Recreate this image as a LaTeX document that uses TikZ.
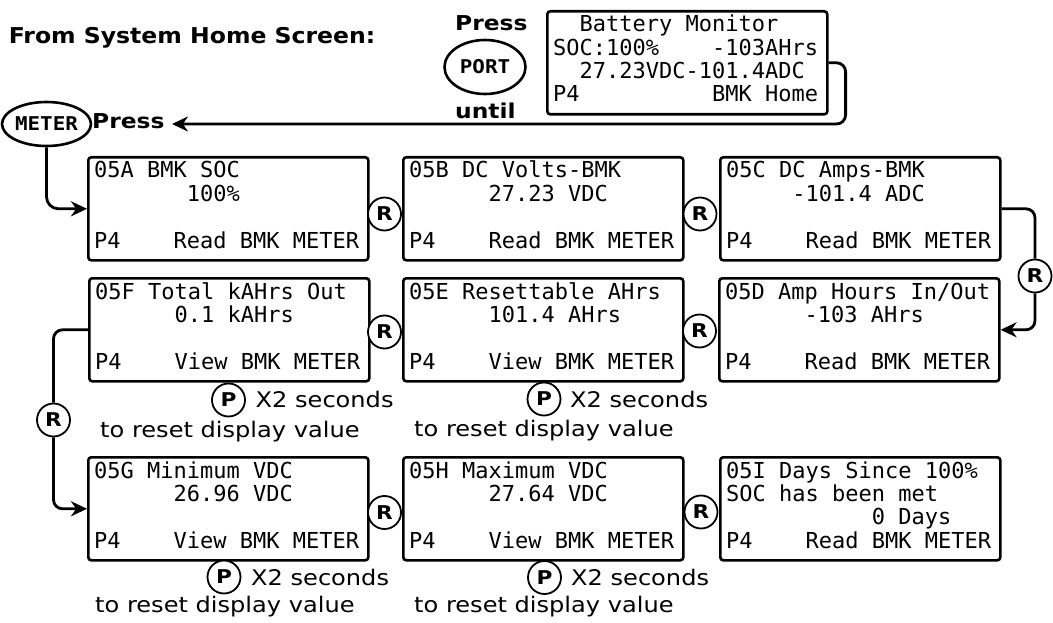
\documentclass[tikz,border=0pt]{standalone}
\usepackage{fontspec}
\usetikzlibrary{arrows.meta,calc,shapes.geometric}
\newfontfamily\monof{DejaVu Sans Mono}
\newfontfamily\keyf[FakeStretch=1.1]{DejaVu Sans Mono}
\newfontfamily\sansf[FakeStretch=1.12]{DejaVu Sans}
\newfontfamily\headf[FakeStretch=1.14]{DejaVu Sans}
\newfontfamily\titlef[FakeStretch=1.08]{DejaVu Sans}

\tikzset{
 scr/.style={draw, line width=2.6pt, rounded corners=3pt, minimum width=280pt, minimum height=103pt, inner sep=0pt, anchor=north west},
 mtx/.style={font=\monof\fontsize{22}{24}\selectfont, inner sep=0pt, anchor=base west},
 rbtn/.style={circle, draw, line width=1.8pt, fill=white, minimum size=33pt, inner sep=0pt, font=\headf\bfseries\fontsize{19}{20}\selectfont},
 conn/.style={line width=2.8pt, rounded corners=9pt},
 arr/.style={conn, -{Stealth[length=16pt,width=15pt]}},
 note/.style={font=\sansf\fontsize{21.5}{24}\selectfont, inner sep=0pt, anchor=base west},
 head/.style={font=\headf\bfseries\fontsize{20.5}{24}\selectfont, inner sep=0pt, anchor=base west},
 key/.style={ellipse, draw, line width=2.6pt, inner sep=0pt, font=\keyf\bfseries\fontsize{19}{20}\selectfont},
}

\newcommand\screen[7]{%
 \node[scr] (#1) at (#2,#3) {};
 \node[mtx] (#1-1) at ($(#1.north west)+(7,22)$) {#4};
 \node[mtx] (#1-2) at ($(#1.north west)+(7,45.3)$) {#5};
 \node[mtx] (#1-3) at ($(#1.north west)+(7,68.7)$) {#6};
 \node[mtx] (#1-4) at ($(#1.north west)+(7,92)$) {#7};
}

\begin{document}
\begin{tikzpicture}[x=1pt,y=-1pt]
\useasboundingbox (0,0) rectangle (1053,623);

% headings
\node[head, font=\titlef\bfseries\fontsize{21.8}{24}\selectfont] (title) at (8.6,44) {From System Home Screen:};
\node[head] (press1) at (455,31) {Press};
\node[key, minimum width=81pt, minimum height=54pt] (port) at (485,67) {PORT};
\node[head] (until) at (455,119) {until};
\node[key, minimum width=82pt, minimum height=44pt] (meter) at (46.5,124) {METER};
\node[head] (press2) at (92,129) {Press};
\coordinate (ptip) at (172,124);

% screens
\screen{bat}{546}{10}{~~Battery Monitor}{SOC:100\%~~~~-103AHrs}{~~27.23VDC-101.4ADC}{P4~~~~~~~~~~BMK Home}
\screen{A}{87}{156}{05A BMK SOC}{~~~~~~~100\%}{}{P4~~~~Read BMK METER}
\screen{B}{402}{156}{05B DC Volts-BMK}{~~~~~~27.23 VDC}{}{P4~~~~Read BMK METER}
\screen{C}{719}{156}{05C DC Amps-BMK}{~~~~~-101.4 ADC}{}{P4~~~~Read BMK METER}
\screen{F}{88}{277}{05F Total kAHrs Out}{~~~~~~0.1 kAHrs}{}{P4~~~~View BMK METER}
\screen{E}{402}{277}{05E Resettable AHrs}{~~~~~~101.4 AHrs}{}{P4~~~~View BMK METER}
\screen{D}{718}{277}{05D Amp Hours In/Out}{~~~~~~-103 AHrs}{}{P4~~~~Read BMK METER}
\screen{G}{87}{456}{05G Minimum VDC}{~~~~~~26.96 VDC}{}{P4~~~~View BMK METER}
\screen{H}{402}{456}{05H Maximum VDC}{~~~~~~27.64 VDC}{}{P4~~~~View BMK METER}
\screen{I}{719}{456}{05I Days Since 100\%}{SOC has been met}{~~~~~~~~~~~0 Days}{P4~~~~Read BMK METER}

% R buttons
\node[rbtn] (Rab) at (384.5,214) {R};
\node[rbtn] (Rbc) at (700,214) {R};
\node[rbtn] (Rfe) at (384.5,332) {R};
\node[rbtn] (Red) at (699.5,331) {R};
\node[rbtn] (Rgh) at (384.5,512.5) {R};
\node[rbtn] (Rhi) at (701,512) {R};
\node[rbtn] (Rr) at (1035,276) {R};
\node[rbtn] (Rl) at (53.5,420) {R};

% connectors
\draw[arr] (bat.east) -- ++(17,0) |- (ptip);
\draw[arr, rounded corners=12pt] (meter.south) |- (A.west);
\draw[conn] (C.east) -| (Rr.north);
\draw[arr] (Rr.south) |- (D.east);
\draw[conn] (F.west) -| (Rl.north);
\draw[arr] (Rl.south) |- (G.west);

% P buttons and notes
\node[rbtn] (pF) at (228.5,400) {P};
\node[note] (xF) at (255.5,407.5) {X2 seconds};
\node[note] (tF) at (100,437) {to reset display value};
\node[rbtn] (pE) at (544,399) {P};
\node[note] (xE) at (570,407) {X2 seconds};
\node[note] (tE) at (414,436) {to reset display value};
\node[rbtn] (pG) at (224,577) {P};
\node[note] (xG) at (251,585) {X2 seconds};
\node[note] (tG) at (95,612) {to reset display value};
\node[rbtn] (pH) at (544.5,577.5) {P};
\node[note] (xH) at (571,585) {X2 seconds};
\node[note] (tH) at (414,612) {to reset display value};
\end{tikzpicture}
\end{document}
